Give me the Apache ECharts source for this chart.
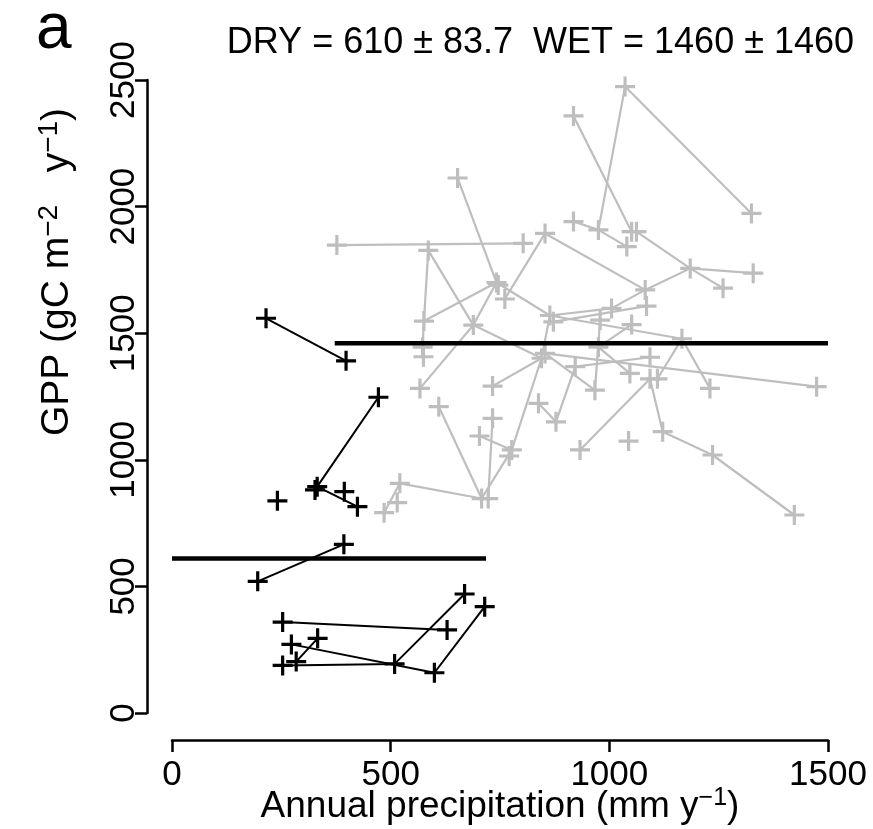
<!DOCTYPE html>
<html><head><meta charset="utf-8">
<script src="https://cdn.jsdelivr.net/npm/echarts@6/dist/echarts.min.js"></script>
<style>html,body{margin:0;padding:0;background:#fff}#c{width:873px;height:829px}</style>
</head><body><div id="c"></div>
<script>
const xTicks = [0, 500, 1000, 1500];
const yTicks = [0, 500, 1000, 1500, 2000, 2500];
const dryMean = 610, dryErr = 83.7, wetMean = 1460, wetErr = 1460;
const dryMeanSpan = [0, 718];
const wetMeanSpan = [372, 1500];
const panelLabel = 'a';

// dry sites (black): polylines of [precip, GPP]
const drySites = [
  [[215,1559],[398,1391]],
  [[472,1247],[332,894],[424,815]],
  [[327,881]],
  [[394,874]],
  [[241,838]],
  [[196,520],[393,666]],
  [[253,359],[629,328]],
  [[253,188],[509,194],[669,470]],
  [[273,271],[600,159],[715,420]],
  [[284,203],[333,295]]
];

// wet sites (grey): polylines of [precip, GPP]
const wetSites = [
  [[377,1848],[803,1855]],
  [[653,2113],[742,1700],[864,1570],[1166,1478],[1230,1282]],
  [[689,1532],[586,1827],[576,1548],[573,1445],[575,1407]],
  [[576,1548],[742,1700]],
  [[742,1700],[689,1532],[567,1282]],
  [[746,1690]],
  [[853,1894],[761,1635]],
  [[853,1894],[1082,1671],[1185,1756],[1329,1737]],
  [[918,2358],[1051,1901]],
  [[1062,1901],[1185,1756],[1260,1678]],
  [[1325,1973],[1036,2474],[975,1908]],
  [[918,1941],[975,1908],[1040,1842]],
  [[864,1570],[1005,1598],[1082,1671]],
  [[1085,1607],[872,1545]],
  [[1166,1478],[1110,1320]],
  [[933,1039],[1093,1320],[1122,1111],[1236,1019],[1423,782]],
  [[853,1420],[1474,1289]],
  [[979,1552],[967,1275]],
  [[975,1445],[1051,1534]],
  [[975,1445],[1047,1341]],
  [[922,1368],[1093,1405]],
  [[853,1420],[967,1275]],
  [[689,1532],[845,1401],[733,1291]],
  [[864,1570],[845,1401],[777,1039],[708,847],[610,1210]],
  [[703,1094],[777,1039]],
  [[733,1164],[723,847]],
  [[485,791],[521,907],[708,847]],
  [[838,1223],[878,1150],[922,1368]],
  [[1044,1074]],
  [[771,1015]],
  [[515,831]]
];

const GREY = '#BEBEBE';
// filled plus sign (pch = 3 look)
const CROSS = 'path://M-1.6,-10H1.6V10H-1.6Z M-10,-1.6H10V1.6H-10Z';

function uniquePoints(sites) {
  const seen = {}, out = [];
  sites.forEach(s => s.forEach(p => {
    const k = p[0] + '_' + p[1];
    if (!seen[k]) { seen[k] = 1; out.push(p); }
  }));
  return out;
}

const series = [];
wetSites.forEach(s => { if (s.length > 1) series.push({
  type: 'line', data: s, symbol: 'none', silent: true, z: 1,
  lineStyle: { color: GREY, width: 2.2 }, clip: false
}); });
series.push({
  type: 'scatter', data: uniquePoints(wetSites), symbol: CROSS, symbolSize: 20, z: 2, silent: true, clip: false,
  itemStyle: { color: GREY, opacity: 1 }
});
drySites.forEach(s => { if (s.length > 1) series.push({
  type: 'line', data: s, symbol: 'none', silent: true, z: 3,
  lineStyle: { color: '#000', width: 2 }, clip: false
}); });
series.push({
  type: 'scatter', data: uniquePoints(drySites), symbol: CROSS, symbolSize: 20, z: 4, silent: true, clip: false,
  itemStyle: { color: '#000', opacity: 1 }
});
series.push({ type: 'line', data: [[dryMeanSpan[0], dryMean], [dryMeanSpan[1], dryMean]], symbol: 'none', z: 5, silent: true, clip: false,
  lineStyle: { color: '#000', width: 4.5 } });
series.push({ type: 'line', data: [[wetMeanSpan[0], wetMean], [wetMeanSpan[1], wetMean]], symbol: 'none', z: 5, silent: true, clip: false,
  lineStyle: { color: '#000', width: 4.5 } });

const FONT = 'Liberation Sans';
const plain = v => String(v);
const chart = echarts.init(document.getElementById('c'), null, { renderer: 'canvas' });
chart.setOption({
  animation: false,
  backgroundColor: '#fff',
  title: [
    { text: 'DRY = ' + dryMean + ' ± ' + dryErr + '  WET = ' + wetMean + ' ± ' + wetErr,
      right: 14, top: 20, textStyle: { fontFamily: FONT, fontWeight: 'normal', fontSize: 36, color: '#000' } },
    { text: panelLabel, left: 31, top: -7, textStyle: { fontFamily: FONT, fontWeight: 'normal', fontSize: 64, color: '#000' } }
  ],
  grid: { left: 172, right: 45, top: 80, bottom: 116, containLabel: false, outerBoundsMode: 'none' },
  xAxis: {
    type: 'value', min: xTicks[0], max: xTicks[xTicks.length - 1], interval: 500, offset: 27,
    splitLine: { show: false },
    axisLine: { show: true, onZero: false, lineStyle: { color: '#000', width: 2.5 } },
    axisTick: { show: true, length: 12, lineStyle: { color: '#000', width: 2.5 } },
    axisLabel: { margin: 18, formatter: plain, fontFamily: FONT, fontSize: 35, color: '#000', showMinLabel: true, showMaxLabel: true },
    name: '{n|Annual precipitation (mm y}{s|−1}{n|)}', nameLocation: 'middle', nameGap: 46, nameMoveOverlap: false,
    nameTextStyle: { fontFamily: FONT, color: '#000', rich: {
      n: { fontFamily: FONT, fontSize: 37, lineHeight: 42, color: '#000' },
      s: { fontFamily: FONT, fontSize: 25, lineHeight: 25, verticalAlign: 'top', color: '#000' } } }
  },
  yAxis: {
    type: 'value', min: yTicks[0], max: yTicks[yTicks.length - 1], interval: 500, offset: 25,
    splitLine: { show: false },
    axisLine: { show: true, onZero: false, lineStyle: { color: '#000', width: 2.5 } },
    axisTick: { show: true, length: 12, lineStyle: { color: '#000', width: 2.5 } },
    axisLabel: { rotate: 90, margin: 5, formatter: plain, fontFamily: FONT, fontSize: 35, color: '#000', showMinLabel: true, showMaxLabel: true }
  },
  graphic: [{
    type: 'text', x: 57, y: 272, rotation: Math.PI / 2,
    style: {
      text: '{n|GPP (gC m}{s|−2}{n|   y}{s|−1}{n|)}', align: 'center', verticalAlign: 'middle',
      rich: {
        n: { fontFamily: FONT, fontSize: 39, lineHeight: 44, fill: '#000' },
        s: { fontFamily: FONT, fontSize: 28, lineHeight: 28, verticalAlign: 'top', fill: '#000' }
      }
    }
  }],
  series: series
});
</script>
</body></html>
